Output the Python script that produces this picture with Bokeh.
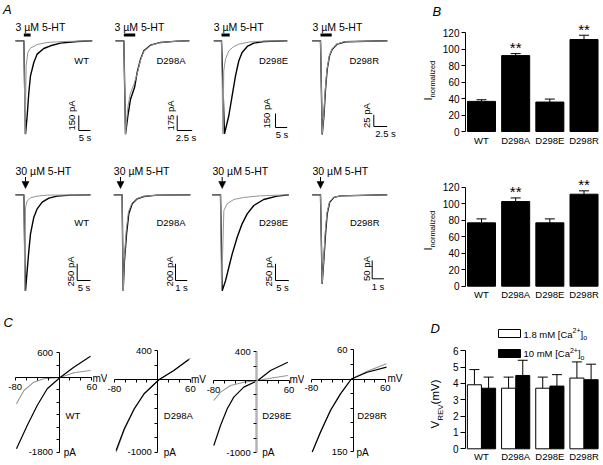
import math
from bokeh.plotting import figure
from bokeh.layouts import column, row
from bokeh.models import Range1d, FixedTicker, Arrow, NormalHead, Whisker, TeeHead, ColumnDataSource
from bokeh.core.properties import value
from bokeh.embed import file_html
from bokeh.resources import INLINE

FONT = "Liberation Sans"
GRAY = "#959595"

# ------------------------------------------------------------------ data
MUTANTS = ["WT", "D298A", "D298E", "D298R"]

# Panel A, 3 uM 5-HT: time (s), current (pA)
A3_WT_T_BLACK = [0, 3.56, 4.27, 4.99, 5.70, 6.41, 7.83, 9.26, 12.1, 14.96, 19.2, 26.4, 32.8]
A3_WT_I_BLACK = [0, 0, -933, -750, -517, -350, -217, -133, -77, -50, -23, -7, 0]
A3_WT_T_GRAY = [0, 3.56, 4.1, 4.56, 5.27, 6.41, 9.26, 13.5, 20.7, 32.8]
A3_WT_I_GRAY = [0, 0, -933, -250, -117, -73, -37, -17, -7, 0]
A3_D298A_T_BLACK = [0, 1.39, 1.67, 2.06, 2.5, 3.17, 3.61, 4.17, 4.72, 5.83, 7.5, 10.3, 12.3]
A3_D298A_I_BLACK = [0, 0, -1089, -875, -681, -545, -370, -214, -117, -51, -19, -4, 0]
A3_D298A_T_GRAY = [0, 1.39, 1.67, 2.0, 2.45, 3.1, 3.61, 4.17, 4.72, 5.83, 7.5, 10.3, 12.3]
A3_D298A_I_GRAY = [0, 0, -1089, -800, -620, -500, -385, -225, -122, -54, -20, -4, 0]
A3_D298E_T_BLACK = [0, 3.29, 4.57, 6.41, 7.83, 9.27, 10.7, 12.1, 14.3, 17.1, 21.4, 31.4]
A3_D298E_I_BLACK = [0, 0, -998, -803, -589, -375, -214, -125, -61, -25, -7, 0]
A3_D298E_T_GRAY = [0, 3.29, 3.9, 4.27, 5.0, 6.41, 8.55, 10.7, 15.0, 20.7, 31.4]
A3_D298E_I_GRAY = [0, 0, -998, -321, -196, -107, -61, -36, -14, -4, 0]
A3_D298R_T_BLACK = [0, 1.56, 1.88, 2.19, 2.5, 2.81, 3.25, 3.75, 4.69, 6.25, 14.1]
A3_D298R_I_BLACK = [0, 0, -200, -161, -103, -61, -32, -18, -7, -2, 0]
A3_D298R_T_GRAY = [0, 1.56, 1.88, 2.15, 2.45, 2.75, 3.2, 3.7, 4.6, 6.0, 14.1]
A3_D298R_I_GRAY = [0, 0, -198, -160, -105, -63, -33, -18, -7, -2, 0]
A3_APP_START = [3.56, 1.39, 3.29, 1.56]
A3_APP_DUR = [2.9, 1.9, 3.5, 2.1]
A3_SCALE_PA = [150, 175, 150, 25]
A3_SCALE_S = [5, 2.5, 5, 2.5]

# Panel A, 30 uM 5-HT
A30_WT_T_BLACK = [0, 3.12, 3.75, 4.37, 5.0, 5.62, 6.87, 8.12, 10.0, 12.5, 15.6, 20.6, 28.1]
A30_WT_I_BLACK = [0, 0, -1435, -1135, -835, -585, -335, -210, -110, -50, -20, -5, 0]
A30_WT_T_GRAY = [0, 3.12, 3.5, 3.75, 4.37, 5.62, 8.12, 11.9, 28.1]
A30_WT_I_GRAY = [0, 0, -1435, -185, -95, -45, -20, -5, 0]
A30_D298A_T_BLACK = [0, 0.71, 0.80, 0.91, 1.09, 1.28, 1.57, 2.0, 2.57, 3.71, 6.55]
A30_D298A_I_BLACK = [0, 0, -1148, -788, -468, -228, -108, -48, -20, -4, 0]
A30_D298A_T_GRAY = [0, 0.71, 0.80, 0.90, 1.06, 1.25, 1.55, 2.0, 2.57, 3.71, 6.55]
A30_D298A_I_GRAY = [0, 0, -1148, -760, -430, -205, -100, -45, -18, -4, 0]
A30_D298E_T_BLACK = [0, 3.11, 3.75, 5.0, 6.24, 7.5, 9.36, 11.2, 13.1, 15.6, 19.3, 24.3, 28.7]
A30_D298E_I_BLACK = [0, 0, -1435, -1285, -1085, -885, -635, -435, -285, -160, -70, -20, 0]
A30_D298E_T_GRAY = [0, 3.11, 3.5, 4.37, 5.6, 8.1, 11.8, 18.1, 28.7]
A30_D298E_I_GRAY = [0, 0, -1435, -235, -135, -70, -40, -15, 0]
A30_D298R_T_BLACK = [0, 0.71, 0.85, 0.99, 1.14, 1.28, 1.5, 1.85, 2.42, 6.41]
A30_D298R_I_BLACK = [0, 0, -243, -179, -106, -52, -20, -7, -3, 0]
A30_D298R_T_GRAY = [0, 0.71, 0.85, 0.98, 1.12, 1.26, 1.48, 1.82, 2.4, 6.41]
A30_D298R_I_GRAY = [0, 0, -240, -175, -100, -50, -19, -7, -3, 0]
A30_ARROW_T = [3.75, 0.57, 3.75, 0.71]
A30_SCALE_PA = [250, 200, 250, 50]
A30_SCALE_S = [5, 1, 5, 1]

# Panel B: I normalized (mean, +SEM)
B3_MEAN = [36.5, 92.0, 35.7, 111.5]
B3_SEM = [2.0, 2.4, 3.6, 5.2]
B30_MEAN = [76.8, 102.6, 76.8, 111.5]
B30_SEM = [4.8, 4.4, 4.8, 4.1]
SIG = ["", "**", "", "**"]
B_YTICKS = [0, 20, 40, 60, 80, 100, 120]

# Panel C: I-V relations (mV, pA)
C_WT_V_BLACK = [-77.6, -58, -39.8, -21.5, 2, 27, 57.5]
C_WT_I_BLACK = [-1718, -1157, -675, -272, 0, 248, 513]
C_WT_V_GRAY = [-77.6, -64, -46, -27.7, 2, 27, 57.5]
C_WT_I_GRAY = [-634, -313, -113, -31, 0, 113, 169]
C_D298A_V_BLACK = [-76.8, -61.7, -43.4, -25.2, 2, 29.6, 57]
C_D298A_I_BLACK = [-976, -676, -400, -193, 0, 128, 280]
C_D298A_V_GRAY = [-76.8, -61.7, -43.4, -25.2, 2, 29.6, 60]
C_D298A_I_GRAY = [-1003, -690, -405, -195, 0, 130, 298]
C_D298E_V_BLACK = [-79.4, -67, -54.6, -42.4, -23.9, 2, 25.6, 57.6]
C_D298E_I_BLACK = [-897, -621, -390, -230, -92, 0, 138, 253]
C_D298E_V_GRAY = [-79.4, -67, -48.5, -23.9, 2, 25.6, 57.6]
C_D298E_I_GRAY = [-276, -161, -69, -23, 0, 32, 69]
C_D298R_V_BLACK = [-77.9, -62.3, -43.4, -24.5, -4, 25.8, 62.3]
C_D298R_I_BLACK = [-151, -110, -65, -30.6, 0, 14, 24.4]
C_D298R_V_GRAY = [-77.9, -62.3, -43.4, -24.5, -4, 25.8, 62.3]
C_D298R_I_GRAY = [-150, -109, -64, -30, 0, 16, 31.4]
C_YLIM = [(-1800, 600), (-1000, 400), (-1000, 400), (-150, 60)]
C_YLABELS = [("-1800", "600"), ("-1000", "400"), ("-1000", "400"), ("150", "60")]
C_YSTEP = [300, 200, 200, 30]
C_XLIM = (-80, 60)

# Panel D: V_REV (mV), mean and SEM
D_LOW_MEAN = [3.92, 3.71, 3.71, 4.33]
D_LOW_SEM = [0.93, 0.68, 0.68, 0.99]
D_HIGH_MEAN = [3.71, 4.49, 3.84, 4.23]
D_HIGH_SEM = [0.68, 0.93, 0.70, 0.95]
D_YTICKS = [0, 1, 2, 3, 4, 5, 6]

# ------------------------------------------------------------------ helpers
COMMON = dict(output_backend="svg", toolbar_location=None, min_border=0,
              outline_line_color=None, background_fill_color="white",
              border_fill_color="white")

W_ARIAL = {' ': 278, '.': 278, 'm': 833, 'M': 833, '[': 278, ']': 278, 'C': 722, 'a': 556,
           '+': 584, 'o': 556, 'V': 667, 'R': 722, 'E': 667, '(': 333, ')': 333, 'I': 278,
           'n': 556, 'r': 333, 'l': 222, 'i': 222, 'z': 500, 'e': 556, 'd': 556}


def twidth(s, size):
    return sum(W_ARIAL.get(c, 556) for c in s) * size / 1000.0


def txt(p, x, y, s, size=10, align="left", baseline="middle", angle=0.0, style="normal"):
    p.text(x=[x], y=[y], text=[s], text_font=value(FONT), text_font_size=f"{size}px",
           text_align=align, text_baseline=baseline, angle=angle, text_font_style=style,
           text_color="black")


def pieces_h(p, fx, fy, rx, ryc, parts):
    x = rx
    for s, size, dy in parts:
        txt(p, fx(x), fy(ryc + dy), s, size=size)
        x += twidth(s, size)


def pieces_v(p, fx, fy, rxc, ry, parts):
    y = ry
    for s, size, dx in parts:
        txt(p, fx(rxc + dx), fy(y), s, size=size, angle=math.pi / 2)
        y -= twidth(s, size)


def trace_panel(g, traces):
    L, T, W, H = g["tile"]
    xs, yb, kx, ky = g["xs"], g["yb"], g["kx"], g["ky"]
    p = figure(width=W, height=H,
               x_range=Range1d((L - xs) / kx, (L + W - xs) / kx),
               y_range=Range1d((yb - T - H) / ky, (yb - T) / ky),
               x_axis_location=None, y_axis_location=None, **COMMON)
    p.xgrid.grid_line_color = None
    p.ygrid.grid_line_color = None

    def fx(r):
        return (r - xs) / kx

    def fy(r):
        return (yb - r) / ky

    (tb, ib), (tg, ig) = traces
    p.line(tb, ib, line_color="black", line_width=1.4)
    p.line(tg, ig, line_color=GRAY, line_width=1.0)
    txt(p, fx(g["conc_x"]), fy(g["conc_y"]), g["conc"], size=10.5)
    txt(p, fx(g["name_rx"]), fy(g["name_y"]), g["name"], size=9.5, align="right")
    cx, cy = g["sb"]
    pa, sec = g["sb_pa"], g["sb_s"]
    p.line([fx(cx), fx(cx), fx(cx) + sec], [fy(cy) + pa, fy(cy), fy(cy)],
           line_color="black", line_width=1)
    lx, ly = g["pa_lab"]
    txt(p, fx(lx), fy(ly), f"{pa:g} pA", size=9.5, align="center", angle=math.pi / 2)
    sx, sy = g["s_lab"]
    txt(p, fx(sx), fy(sy), f"{sec:g} s", size=9.5, align="center", baseline="top")
    if "app" in g:
        t0, dur = g["app"]
        p.line([t0, t0 + dur], [fy(g["app_y"])] * 2, line_color="black", line_width=3,
               line_cap="butt")
    if "arrow" in g:
        ta = g["arrow"]
        y0, y1 = g["arrow_y"]
        p.add_layout(Arrow(end=NormalHead(size=7, line_color="black", fill_color="black",
                                          line_width=0.5),
                           x_start=ta, y_start=fy(y0), x_end=ta, y_end=fy(y1),
                           line_color="black", line_width=1))
    if "letter" in g:
        lt, lx2, ly2 = g["letter"]
        txt(p, fx(lx2), fy(ly2), lt, size=13, style="italic")
    return p


def style_axis(ax, size=10):
    ax.major_label_text_font = FONT
    ax.major_label_text_font_size = f"{size}px"
    ax.major_label_text_color = "black"
    ax.axis_line_color = "black"
    ax.axis_line_width = 1
    ax.major_tick_line_color = "black"
    ax.minor_tick_line_color = "black"


def iv_panel(g, curves, ylim, ylabels, ystep, letter=None):
    L, T, W, H = g["tile"]
    ox, oy, kx, ky = g["ox"], g["oy"], g["kx"], g["ky"]
    p = figure(width=W, height=H,
               x_range=Range1d((L - ox) / kx, (L + W - ox) / kx),
               y_range=Range1d((oy - T - H) / ky, (oy - T) / ky), **COMMON)
    p.xgrid.grid_line_color = None
    p.ygrid.grid_line_color = None

    def fx(r):
        return (r - ox) / kx

    def fy(r):
        return (oy - r) / ky

    (vb, ib), (vg, ig) = curves
    p.line(vg, ig, line_color=GRAY, line_width=1.1)
    p.line(vb, ib, line_color="black", line_width=1.2)
    xa = p.xaxis[0]
    ya = p.yaxis[0]
    xa.fixed_location = 0
    ya.fixed_location = 0
    style_axis(xa, 9.5)
    style_axis(ya, 9.5)
    if g.get("gray_yaxis"):
        ya.axis_line_color = "#b4b4b4"
        ya.axis_line_width = 2.5
    xa.bounds = C_XLIM
    ya.bounds = ylim
    xminor = [v for v in range(C_XLIM[0] + 20, C_XLIM[1], 20)]
    xa.ticker = FixedTicker(ticks=list(C_XLIM), minor_ticks=xminor)
    xa.major_label_overrides = {C_XLIM[0]: str(C_XLIM[0]), C_XLIM[1]: str(C_XLIM[1])}
    xa.major_tick_out = 3
    xa.major_tick_in = 0
    xa.minor_tick_out = 3
    xa.minor_tick_in = 0
    xa.major_label_standoff = 3
    yminor = [v for v in range(ylim[0] + ystep, ylim[1], ystep)]
    ya.ticker = FixedTicker(ticks=list(ylim), minor_ticks=yminor)
    ya.major_label_overrides = {ylim[0]: ylabels[0], ylim[1]: ylabels[1]}
    ya.major_tick_out = 3
    ya.major_tick_in = 0
    ya.minor_tick_out = 3
    ya.minor_tick_in = 0
    ya.major_label_standoff = 3
    txt(p, fx(g["mv"][0]), fy(g["mv"][1]), "mV", size=10)
    txt(p, fx(g["pa"][0]), fy(g["pa"][1]), "pA", size=10)
    txt(p, fx(g["name"][0]), fy(g["name"][1]), g["name"][2], size=9.5)
    if letter:
        txt(p, fx(letter[1]), fy(letter[2]), letter[0], size=13, style="italic")
    return p


XC0, KXB = 481.0, 34.17
BL, BW = 410, 192


def bar_base(T, H, y0, ky, yticks, tick_out):
    p = figure(width=BW, height=H,
               x_range=Range1d((BL - XC0) / KXB, (BL + BW - XC0) / KXB),
               y_range=Range1d((y0 - T - H) / ky, (y0 - T) / ky), **COMMON)
    p.xgrid.grid_line_color = None
    p.ygrid.grid_line_color = None

    def fx(r):
        return (r - XC0) / KXB

    def fy(r):
        return (y0 - r) / ky

    ya = p.yaxis[0]
    xa = p.xaxis[0]
    ya.fixed_location = fx(465)
    xa.fixed_location = 0
    style_axis(ya)
    style_axis(xa, size=9.5)
    ya.bounds = (yticks[0], yticks[-1])
    ya.ticker = FixedTicker(ticks=yticks)
    ya.major_tick_out = tick_out
    ya.major_tick_in = 0
    ya.minor_tick_line_color = None
    ya.major_label_standoff = 2
    xa.ticker = FixedTicker(ticks=list(range(len(MUTANTS))))
    xa.major_label_overrides = {i: m for i, m in enumerate(MUTANTS)}
    xa.axis_line_color = None
    xa.major_tick_line_color = None
    xa.minor_tick_line_color = None
    xa.major_tick_out = 0
    xa.major_tick_in = 0
    xa.minor_tick_out = 0
    xa.minor_tick_in = 0
    xa.major_label_standoff = 3
    return p, fx, fy


def b_panel(T, H, y0, mean, sem, ilab_y, letter=None):
    ky = 99.0 / 120.0
    p, fx, fy = bar_base(T, H, y0, ky, B_YTICKS, 4)
    xs = list(range(len(MUTANTS)))
    p.vbar(x=xs, top=mean, width=0.82, fill_color="black", line_color="black")
    upper = [m + s for m, s in zip(mean, sem)]
    src = ColumnDataSource(dict(x=xs, lower=mean, upper=upper))
    p.add_layout(Whisker(source=src, base="x", lower="lower", upper="upper",
                         line_color="black", line_width=1, lower_head=None,
                         upper_head=TeeHead(size=10, line_color="black", line_width=1)))
    for x, u, s in zip(xs, upper, SIG):
        if s:
            txt(p, x, u + 7.5, s, size=15, align="center")
    pieces_v(p, fx, fy, 427, ilab_y, [("I", 11, 0), ("normalized", 7.5, 5)])
    if letter:
        txt(p, fx(letter[1]), fy(letter[2]), letter[0], size=13, style="italic")
    return p


def d_panel(T, H):
    y0, ky = 448.3, 98.0 / 6.0
    p, fx, fy = bar_base(T, H, y0, ky, D_YTICKS, 5)
    p.xaxis[0].major_label_standoff = 2
    xs = list(range(len(MUTANTS)))
    xl = [x - 0.2075 for x in xs]
    xh = [x + 0.2075 for x in xs]
    p.vbar(x=xl, top=D_LOW_MEAN, width=0.41, fill_color="white", line_color="black", line_width=1)
    p.vbar(x=xh, top=D_HIGH_MEAN, width=0.41, fill_color="black", line_color="black", line_width=1)
    for xx, m, s in ((xl, D_LOW_MEAN, D_LOW_SEM), (xh, D_HIGH_MEAN, D_HIGH_SEM)):
        src = ColumnDataSource(dict(x=xx, lower=m, upper=[a + b for a, b in zip(m, s)]))
        p.add_layout(Whisker(source=src, base="x", lower="lower", upper="upper",
                             line_color="black", line_width=1, lower_head=None,
                             upper_head=TeeHead(size=10, line_color="black", line_width=1)))
    # legend
    p.quad(left=[fx(498)], right=[fx(520)], top=[fy(329)], bottom=[fy(337)],
           fill_color="white", line_color="black", line_width=1)
    p.quad(left=[fx(498)], right=[fx(520)], top=[fy(349)], bottom=[fy(357)],
           fill_color="black", line_color="black", line_width=1)
    pieces_h(p, fx, fy, 523, 333.5, [("1.8 mM [Ca", 9.5, 0), ("2+", 7, -3.5), ("]", 9.5, 0), ("o", 7, 3.5)])
    pieces_h(p, fx, fy, 523, 353, [("10 mM [Ca", 9.5, 0), ("2+", 7, -3.5), ("]", 9.5, 0), ("o", 7, 3.5)])
    pieces_v(p, fx, fy, 434, 428, [("V", 11.5, 0), ("REV", 8, 5.5), (" (mV)", 11.5, 0)])
    txt(p, fx(430), fy(328), "D", size=13, style="italic")
    return p


# ------------------------------------------------------------------ geometry (reference px)
ACOLS = [(0, 102), (102, 100), (202, 100), (302, 108)]
R1T, R1H = 0, 150
R2T, R2H = 150, 158
R3T, R3H = 308, 156

G3 = [
    dict(xs=15, yb=40.3, kx=2.34, ky=0.1, conc_x=15, conc_y=26.5,
         name_rx=88.5, name_y=59.5, sb=(78.3, 130), pa_lab=(71, 115), s_lab=(84.5, 131.5),
         app_y=34.5, letter=("A", 2.5, 8.5)),
    dict(xs=115, yb=40.3, kx=6.0, ky=15 / 175, conc_x=114, conc_y=26.5,
         name_rx=185, name_y=59.5, sb=(176.7, 130), pa_lab=(169.5, 115), s_lab=(185.5, 131.5),
         app_y=34.5),
    dict(xs=213.3, yb=40.3, kx=2.34, ky=14 / 150, conc_x=213.3, conc_y=26.5,
         name_rx=287.5, name_y=59.5, sb=(275, 127), pa_lab=(266, 113), s_lab=(281.5, 128.5),
         app_y=34.5),
    dict(xs=311.7, yb=40.3, kx=5.33, ky=11.7 / 25, conc_x=312, conc_y=26.5,
         name_rx=378.5, name_y=59.5, sb=(373.3, 126), pa_lab=(366, 115), s_lab=(385, 127.5),
         app_y=34.5),
]
G30 = [
    dict(xs=15, yb=194.3, kx=2.67, ky=16.7 / 250, conc_x=15, conc_y=170,
         name_rx=88.5, name_y=221.5, sb=(76.7, 280), pa_lab=(70, 271), s_lab=(83.5, 281.5),
         arrow_y=(176.5, 188)),
    dict(xs=113.3, yb=194.3, kx=11.7, ky=16.7 / 200, conc_x=113.3, conc_y=170,
         name_rx=185, name_y=221.5, sb=(175, 280), pa_lab=(169, 271), s_lab=(181, 281.5),
         arrow_y=(176.5, 188)),
    dict(xs=211.7, yb=194.3, kx=2.67, ky=16.7 / 250, conc_x=212, conc_y=170,
         name_rx=287.5, name_y=221.5, sb=(275, 280), pa_lab=(268, 271), s_lab=(282, 281.5),
         arrow_y=(176.5, 188)),
    dict(xs=311.7, yb=194.3, kx=11.7, ky=18.3 / 50, conc_x=312, conc_y=170,
         name_rx=379, name_y=221.5, sb=(371.7, 278.3), pa_lab=(365.5, 268), s_lab=(377.5, 280),
         arrow_y=(176.5, 188)),
]
GC = [
    dict(tile=(0, R3T, 107, R3H), ox=58.5, oy=377, kx=0.548, ky=0.0415,
         mv=(92, 377.5), pa=(63.3, 451.5), name=(65, 415)),
    dict(tile=(107, R3T, 99, R3H), ox=157.3, oy=379.3, kx=0.543, ky=0.0724,
         mv=(190.5, 378.5), pa=(163.3, 451.5), name=(163.3, 415)),
    dict(tile=(206, R3T, 98, R3H), ox=256.2, oy=380, kx=0.54, ky=0.0724,
         mv=(289, 378.5), pa=(261.7, 451.5), name=(261.7, 415), gray_yaxis=True),
    dict(tile=(304, R3T, 106, R3H), ox=353, oy=378.5, kx=0.53, ky=101.7 / 210,
         mv=(387, 378), pa=(356, 451.5), name=(356.7, 415)),
]

A3_TRACES = [
    ((A3_WT_T_BLACK, A3_WT_I_BLACK), (A3_WT_T_GRAY, A3_WT_I_GRAY)),
    ((A3_D298A_T_BLACK, A3_D298A_I_BLACK), (A3_D298A_T_GRAY, A3_D298A_I_GRAY)),
    ((A3_D298E_T_BLACK, A3_D298E_I_BLACK), (A3_D298E_T_GRAY, A3_D298E_I_GRAY)),
    ((A3_D298R_T_BLACK, A3_D298R_I_BLACK), (A3_D298R_T_GRAY, A3_D298R_I_GRAY)),
]
A30_TRACES = [
    ((A30_WT_T_BLACK, A30_WT_I_BLACK), (A30_WT_T_GRAY, A30_WT_I_GRAY)),
    ((A30_D298A_T_BLACK, A30_D298A_I_BLACK), (A30_D298A_T_GRAY, A30_D298A_I_GRAY)),
    ((A30_D298E_T_BLACK, A30_D298E_I_BLACK), (A30_D298E_T_GRAY, A30_D298E_I_GRAY)),
    ((A30_D298R_T_BLACK, A30_D298R_I_BLACK), (A30_D298R_T_GRAY, A30_D298R_I_GRAY)),
]
C_CURVES = [
    ((C_WT_V_BLACK, C_WT_I_BLACK), (C_WT_V_GRAY, C_WT_I_GRAY)),
    ((C_D298A_V_BLACK, C_D298A_I_BLACK), (C_D298A_V_GRAY, C_D298A_I_GRAY)),
    ((C_D298E_V_BLACK, C_D298E_I_BLACK), (C_D298E_V_GRAY, C_D298E_I_GRAY)),
    ((C_D298R_V_BLACK, C_D298R_I_BLACK), (C_D298R_V_GRAY, C_D298R_I_GRAY)),
]

row1 = []
for i, m in enumerate(MUTANTS):
    L, W = ACOLS[i]
    g = dict(G3[i], tile=(L, R1T, W, R1H), conc="3 \u00b5M 5-HT", name=m,
             sb_pa=A3_SCALE_PA[i], sb_s=A3_SCALE_S[i], app=(A3_APP_START[i], A3_APP_DUR[i]))
    row1.append(trace_panel(g, A3_TRACES[i]))
row1.append(b_panel(R1T, R1H, 131.0, B3_MEAN, B3_SEM, 100, letter=("B", 432, 11)))

row2 = []
for i, m in enumerate(MUTANTS):
    L, W = ACOLS[i]
    g = dict(G30[i], tile=(L, R2T, W, R2H), conc="30 \u00b5M 5-HT", name=m,
             sb_pa=A30_SCALE_PA[i], sb_s=A30_SCALE_S[i], arrow=A30_ARROW_T[i])
    row2.append(trace_panel(g, A30_TRACES[i]))
row2.append(b_panel(R2T, R2H, 285.7, B30_MEAN, B30_SEM, 250))

row3 = []
for i, m in enumerate(MUTANTS):
    g = dict(GC[i])
    g["name"] = (*GC[i]["name"], m)
    row3.append(iv_panel(g, C_CURVES[i], C_YLIM[i], C_YLABELS[i], C_YSTEP[i],
                         letter=("C", 3, 322) if i == 0 else None))
row3.append(d_panel(R3T, R3H))

layout = column(row(*row1, spacing=0), row(*row2, spacing=0), row(*row3, spacing=0), spacing=0)

with open("out.html", "w") as f:
    f.write(file_html(layout, INLINE))
